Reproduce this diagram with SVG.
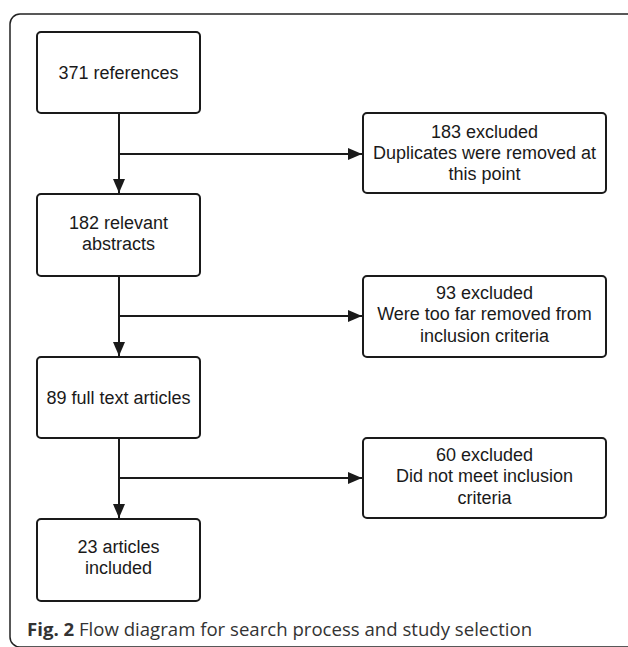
<svg xmlns="http://www.w3.org/2000/svg" width="628" height="647" viewBox="0 0 628 647">
<defs>
<style>
.box{fill:#fff;stroke:#1a1a1a;stroke-width:2}
.t{font-family:"Liberation Sans",Arial,sans-serif;font-size:18px;fill:#1a1a1a;text-anchor:middle}
.c{stroke:#1a1a1a;stroke-width:2;fill:none}
.cap{font-family:"Open Sans","Noto Sans",sans-serif;font-size:18.6px;fill:#333}
</style>
<marker id="ah" markerWidth="14" markerHeight="12" refX="14" refY="6" orient="auto" markerUnits="userSpaceOnUse">
<path d="M0,0 L14,6 L0,12 Z" fill="#1a1a1a"/>
</marker>
</defs>
<rect x="0" y="0" width="628" height="647" fill="#fff"/>
<rect x="10" y="14" width="630" height="633" rx="10" fill="none" stroke="#222" stroke-width="1.5"/>
<g id="connectors">
<path class="c" d="M119,113 V193" marker-end="url(#ah)"/>
<path class="c" d="M119,154 H362" marker-end="url(#ah)"/>
<path class="c" d="M119,276 V356" marker-end="url(#ah)"/>
<path class="c" d="M119,316 H362" marker-end="url(#ah)"/>
<path class="c" d="M119,438 V518" marker-end="url(#ah)"/>
<path class="c" d="M119,478 H362" marker-end="url(#ah)"/>
</g>
<g id="n1"><rect class="box" x="37" y="32" width="163" height="81" rx="4"/><text class="t" x="118.5" y="79">371 references</text></g>
<g id="n2"><rect class="box" x="37" y="194" width="163" height="82" rx="4"/><text class="t" x="118.5" y="228.5">182 relevant</text><text class="t" x="118.5" y="249.5">abstracts</text></g>
<g id="n3"><rect class="box" x="37" y="357" width="163" height="81" rx="4"/><text class="t" x="118.5" y="404">89 full text articles</text></g>
<g id="n4"><rect class="box" x="37" y="519" width="163" height="82" rx="4"/><text class="t" x="118.5" y="552.5">23 articles</text><text class="t" x="118.5" y="574">included</text></g>
<g id="e1"><rect class="box" x="363" y="113" width="243" height="80" rx="4"/><text class="t" x="484.5" y="137.5">183 excluded</text><text class="t" x="484.5" y="158.5">Duplicates were removed at</text><text class="t" x="484.5" y="179.5">this point</text></g>
<g id="e2"><rect class="box" x="363" y="276" width="243" height="81" rx="4"/><text class="t" x="484.5" y="298.5">93 excluded</text><text class="t" x="484.5" y="320">Were too far removed from</text><text class="t" x="484.5" y="341.5">inclusion criteria</text></g>
<g id="e3"><rect class="box" x="363" y="438" width="243" height="80" rx="4"/><text class="t" x="484.5" y="460.5">60 excluded</text><text class="t" x="484.5" y="482">Did not meet inclusion</text><text class="t" x="484.5" y="503.5">criteria</text></g>
<text class="cap" x="27" y="636"><tspan font-weight="bold">Fig. 2</tspan> Flow diagram for search process and study selection</text>
</svg>
